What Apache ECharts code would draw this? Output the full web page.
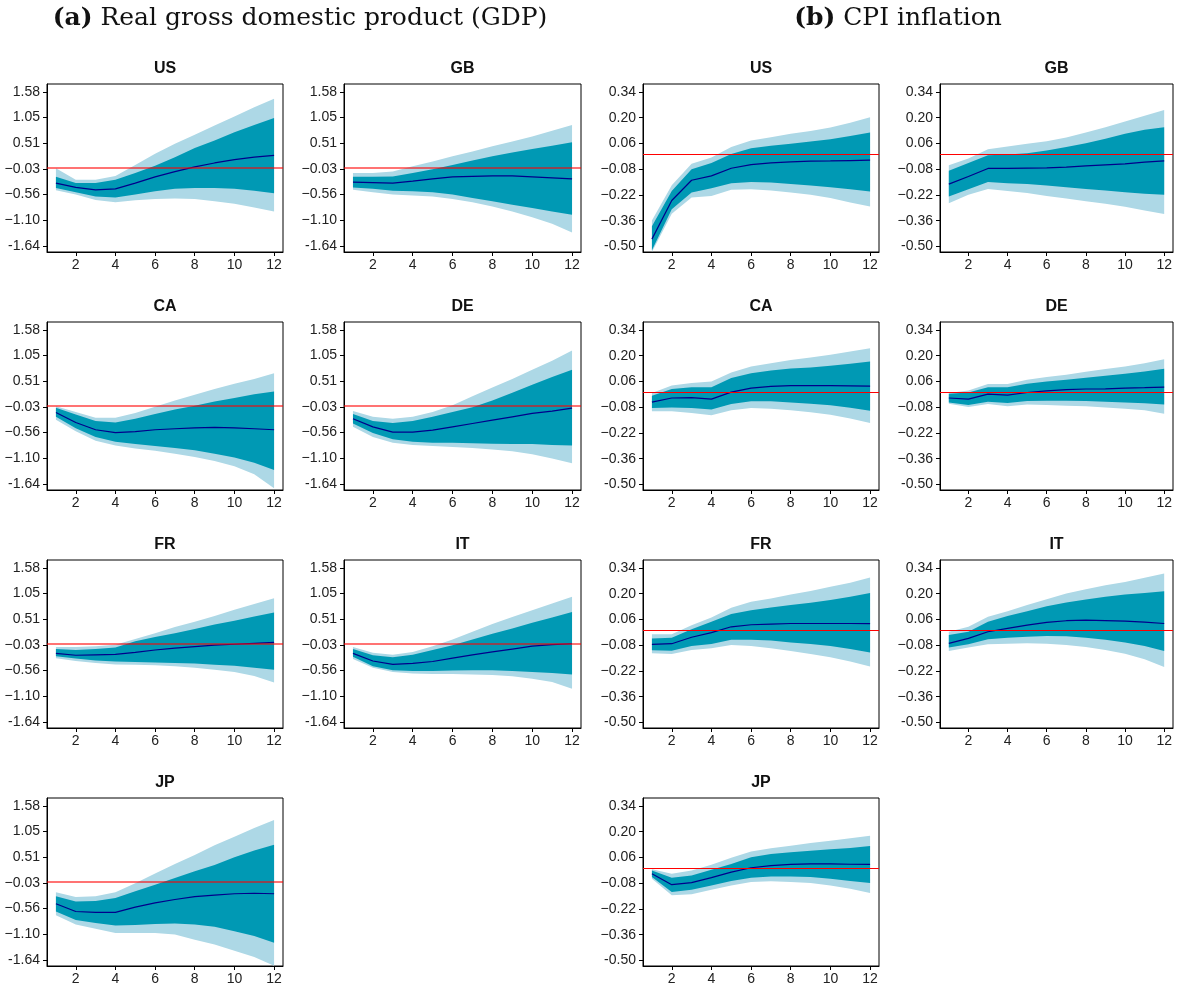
<!DOCTYPE html>
<html><head><meta charset="utf-8">
<script src="https://cdn.jsdelivr.net/npm/echarts@6/dist/echarts.min.js"></script>
<style>html,body{margin:0;padding:0;background:#fff}#c{width:1180px;height:988px}</style>
</head><body><div id="c"></div>
<script>
// ---------------- data ----------------
const horizons = [1,2,3,4,5,6,7,8,9,10,11,12];
const xTickValues = [2,4,6,8,10,12];
const gdpTickValues = [-1.64,-1.10,-0.56,-0.03,0.51,1.05,1.58];
const gdpTickLabels = ['-1.64','\u22121.10','\u22120.56','\u22120.03','0.51','1.05','1.58'];
const cpiTickValues = [-0.50,-0.36,-0.22,-0.08,0.06,0.20,0.34];
const cpiTickLabels = ['-0.50','\u22120.36','\u22120.22','\u22120.08','0.06','0.20','0.34'];

// GDP responses
const gdpUSMid  = [-0.32,-0.41,-0.46,-0.44,-0.32,-0.19,-0.08,0.02,0.10,0.17,0.22,0.26];
const gdpUSHi68 = [-0.19,-0.32,-0.32,-0.25,-0.11,0.04,0.22,0.41,0.57,0.74,0.89,1.04];
const gdpUSLo68 = [-0.42,-0.51,-0.60,-0.62,-0.56,-0.49,-0.44,-0.42,-0.42,-0.44,-0.48,-0.53];
const gdpUSHi90 = [-0.01,-0.25,-0.25,-0.17,0.06,0.29,0.50,0.69,0.88,1.07,1.26,1.44];
const gdpUSLo90 = [-0.47,-0.56,-0.67,-0.72,-0.68,-0.65,-0.64,-0.65,-0.70,-0.75,-0.83,-0.91];

const gdpGBMid  = [-0.30,-0.31,-0.32,-0.28,-0.23,-0.19,-0.18,-0.17,-0.17,-0.19,-0.21,-0.23];
const gdpGBHi68 = [-0.19,-0.19,-0.18,-0.11,-0.03,0.06,0.15,0.24,0.32,0.39,0.46,0.53];
const gdpGBLo68 = [-0.41,-0.44,-0.48,-0.49,-0.51,-0.56,-0.63,-0.70,-0.77,-0.84,-0.91,-0.98];
const gdpGBHi90 = [-0.11,-0.11,-0.08,0.03,0.13,0.24,0.34,0.45,0.55,0.65,0.77,0.89];
const gdpGBLo90 = [-0.46,-0.51,-0.56,-0.58,-0.60,-0.65,-0.72,-0.81,-0.91,-1.03,-1.17,-1.35];

const gdpCAMid  = [-0.14,-0.35,-0.50,-0.56,-0.54,-0.50,-0.48,-0.46,-0.45,-0.46,-0.48,-0.50];
const gdpCAHi68 = [-0.04,-0.18,-0.32,-0.35,-0.27,-0.17,-0.08,0.00,0.09,0.16,0.24,0.30];
const gdpCALo68 = [-0.23,-0.47,-0.65,-0.75,-0.80,-0.84,-0.88,-0.93,-1.00,-1.08,-1.19,-1.34];
const gdpCAHi90 = [-0.01,-0.13,-0.25,-0.25,-0.15,-0.02,0.11,0.23,0.35,0.46,0.56,0.68];
const gdpCALo90 = [-0.29,-0.53,-0.73,-0.83,-0.89,-0.94,-1.00,-1.07,-1.15,-1.26,-1.43,-1.72];

const gdpDEMid  = [-0.27,-0.44,-0.55,-0.55,-0.51,-0.44,-0.37,-0.30,-0.23,-0.16,-0.11,-0.05];
const gdpDEHi68 = [-0.17,-0.32,-0.36,-0.32,-0.23,-0.13,-0.03,0.11,0.27,0.44,0.60,0.75];
const gdpDELo68 = [-0.37,-0.57,-0.70,-0.75,-0.77,-0.77,-0.78,-0.79,-0.80,-0.80,-0.82,-0.83];
const gdpDEHi90 = [-0.11,-0.23,-0.27,-0.23,-0.13,0.01,0.20,0.38,0.56,0.75,0.94,1.15];
const gdpDELo90 = [-0.44,-0.65,-0.77,-0.82,-0.84,-0.86,-0.88,-0.91,-0.95,-1.01,-1.10,-1.20];

const gdpFRMid  = [-0.20,-0.24,-0.23,-0.22,-0.18,-0.13,-0.09,-0.06,-0.03,-0.01,0.01,0.03];
const gdpFRHi68 = [-0.11,-0.13,-0.11,-0.08,0.05,0.14,0.22,0.31,0.40,0.48,0.57,0.65];
const gdpFRLo68 = [-0.26,-0.31,-0.35,-0.37,-0.38,-0.39,-0.40,-0.41,-0.44,-0.46,-0.50,-0.54];
const gdpFRHi90 = [-0.07,-0.07,-0.05,-0.02,0.10,0.22,0.35,0.46,0.58,0.71,0.83,0.95];
const gdpFRLo90 = [-0.30,-0.36,-0.40,-0.43,-0.44,-0.45,-0.47,-0.50,-0.54,-0.59,-0.67,-0.81];

const gdpITMid  = [-0.20,-0.36,-0.43,-0.41,-0.37,-0.30,-0.23,-0.17,-0.11,-0.05,-0.02,0.00];
const gdpITHi68 = [-0.11,-0.24,-0.28,-0.23,-0.13,-0.03,0.09,0.21,0.32,0.44,0.55,0.66];
const gdpITLo68 = [-0.27,-0.47,-0.55,-0.57,-0.57,-0.56,-0.55,-0.55,-0.57,-0.59,-0.61,-0.64];
const gdpITHi90 = [-0.07,-0.19,-0.23,-0.17,-0.05,0.09,0.25,0.41,0.56,0.70,0.84,0.98];
const gdpITLo90 = [-0.32,-0.50,-0.59,-0.62,-0.63,-0.63,-0.64,-0.65,-0.68,-0.73,-0.80,-0.94];

const gdpJPMid  = [-0.46,-0.62,-0.64,-0.64,-0.53,-0.44,-0.37,-0.31,-0.28,-0.25,-0.24,-0.25];
const gdpJPHi68 = [-0.30,-0.41,-0.40,-0.34,-0.20,-0.06,0.08,0.22,0.35,0.51,0.65,0.77];
const gdpJPLo68 = [-0.62,-0.80,-0.86,-0.91,-0.90,-0.88,-0.87,-0.89,-0.94,-1.03,-1.13,-1.27];
const gdpJPHi90 = [-0.22,-0.32,-0.30,-0.22,-0.03,0.17,0.37,0.56,0.76,0.94,1.12,1.29];
const gdpJPLo90 = [-0.70,-0.89,-0.98,-1.07,-1.07,-1.07,-1.10,-1.21,-1.31,-1.44,-1.57,-1.75];

// CPI inflation responses
const cpiUSMid  = [-0.460,-0.250,-0.140,-0.116,-0.075,-0.055,-0.046,-0.040,-0.036,-0.035,-0.033,-0.031];
const cpiUSHi68 = [-0.390,-0.198,-0.080,-0.047,0.002,0.034,0.047,0.058,0.070,0.083,0.101,0.119];
const cpiUSLo68 = [-0.520,-0.297,-0.207,-0.183,-0.156,-0.149,-0.152,-0.160,-0.169,-0.178,-0.189,-0.201];
const cpiUSHi90 = [-0.359,-0.167,-0.051,-0.017,0.040,0.076,0.094,0.112,0.128,0.146,0.173,0.202];
const cpiUSLo90 = [-0.530,-0.322,-0.234,-0.225,-0.192,-0.189,-0.196,-0.207,-0.219,-0.237,-0.261,-0.283];

const cpiGBMid  = [-0.161,-0.120,-0.076,-0.075,-0.074,-0.073,-0.069,-0.062,-0.056,-0.051,-0.042,-0.035];
const cpiGBHi68 = [-0.089,-0.047,-0.004,0.000,0.007,0.021,0.040,0.061,0.085,0.112,0.134,0.148];
const cpiGBLo68 = [-0.228,-0.189,-0.150,-0.156,-0.161,-0.169,-0.178,-0.187,-0.196,-0.205,-0.214,-0.219];
const cpiGBHi90 = [-0.058,-0.022,0.029,0.043,0.058,0.072,0.092,0.119,0.148,0.179,0.210,0.242];
const cpiGBLo90 = [-0.265,-0.219,-0.187,-0.198,-0.210,-0.225,-0.239,-0.254,-0.268,-0.284,-0.304,-0.324];

const cpiCAMid  = [-0.052,-0.030,-0.028,-0.036,0.002,0.024,0.033,0.037,0.037,0.037,0.036,0.035];
const cpiCAHi68 = [-0.018,0.019,0.028,0.029,0.078,0.105,0.120,0.130,0.136,0.145,0.156,0.168];
const cpiCALo68 = [-0.084,-0.081,-0.084,-0.093,-0.063,-0.048,-0.048,-0.054,-0.061,-0.070,-0.083,-0.099];
const cpiCAHi90 = [-0.003,0.038,0.051,0.060,0.109,0.141,0.159,0.177,0.190,0.205,0.223,0.241];
const cpiCALo90 = [-0.102,-0.102,-0.111,-0.124,-0.097,-0.084,-0.088,-0.097,-0.108,-0.121,-0.142,-0.166];

const cpiDEMid  = [-0.030,-0.036,-0.009,-0.014,0.000,0.009,0.015,0.019,0.020,0.024,0.026,0.029];
const cpiDEHi68 = [-0.007,0.000,0.029,0.029,0.047,0.060,0.069,0.080,0.091,0.102,0.114,0.129];
const cpiDELo68 = [-0.054,-0.068,-0.050,-0.057,-0.046,-0.045,-0.045,-0.046,-0.050,-0.054,-0.059,-0.066];
const cpiDEHi90 = [-0.003,0.011,0.046,0.046,0.069,0.084,0.096,0.112,0.127,0.141,0.159,0.181];
const cpiDELo90 = [-0.061,-0.079,-0.063,-0.075,-0.066,-0.068,-0.072,-0.075,-0.081,-0.088,-0.097,-0.115];

const cpiFRMid  = [-0.075,-0.072,-0.037,-0.012,0.020,0.031,0.035,0.038,0.038,0.038,0.038,0.037];
const cpiFRHi68 = [-0.043,-0.039,0.006,0.047,0.089,0.110,0.125,0.138,0.150,0.165,0.183,0.204];
const cpiFRLo68 = [-0.108,-0.110,-0.084,-0.074,-0.050,-0.050,-0.055,-0.065,-0.074,-0.084,-0.100,-0.120];
const cpiFRHi90 = [-0.021,-0.020,0.029,0.071,0.123,0.156,0.174,0.196,0.215,0.237,0.260,0.288];
const cpiFRLo90 = [-0.124,-0.128,-0.106,-0.097,-0.079,-0.084,-0.097,-0.111,-0.128,-0.146,-0.169,-0.196];

const cpiITMid  = [-0.070,-0.043,-0.007,0.011,0.029,0.044,0.053,0.056,0.054,0.051,0.045,0.038];
const cpiITHi68 = [-0.025,-0.007,0.047,0.078,0.105,0.132,0.152,0.168,0.183,0.195,0.204,0.213];
const cpiITLo68 = [-0.093,-0.075,-0.048,-0.039,-0.034,-0.030,-0.032,-0.039,-0.050,-0.065,-0.084,-0.111];
const cpiITHi90 = [-0.007,0.020,0.074,0.105,0.138,0.170,0.201,0.224,0.246,0.264,0.286,0.309];
const cpiITLo90 = [-0.111,-0.093,-0.075,-0.072,-0.070,-0.072,-0.079,-0.090,-0.106,-0.126,-0.157,-0.198];

const cpiJPMid  = [-0.029,-0.088,-0.077,-0.050,-0.020,0.004,0.016,0.022,0.025,0.025,0.023,0.022];
const cpiJPHi68 = [-0.011,-0.050,-0.038,-0.007,0.025,0.061,0.079,0.088,0.097,0.104,0.111,0.122];
const cpiJPLo68 = [-0.047,-0.128,-0.115,-0.092,-0.068,-0.050,-0.043,-0.043,-0.047,-0.056,-0.068,-0.079];
const cpiJPHi90 = [-0.004,-0.029,-0.011,0.020,0.058,0.092,0.110,0.124,0.139,0.151,0.164,0.178];
const cpiJPLo90 = [-0.056,-0.146,-0.140,-0.115,-0.092,-0.074,-0.070,-0.074,-0.079,-0.092,-0.110,-0.133];

// ---------------- panels ----------------
const panels = [
  {name:'US', kind:'gdp', col:0, row:0, mid:gdpUSMid, hi68:gdpUSHi68, lo68:gdpUSLo68, hi90:gdpUSHi90, lo90:gdpUSLo90},
  {name:'GB', kind:'gdp', col:1, row:0, mid:gdpGBMid, hi68:gdpGBHi68, lo68:gdpGBLo68, hi90:gdpGBHi90, lo90:gdpGBLo90},
  {name:'CA', kind:'gdp', col:0, row:1, mid:gdpCAMid, hi68:gdpCAHi68, lo68:gdpCALo68, hi90:gdpCAHi90, lo90:gdpCALo90},
  {name:'DE', kind:'gdp', col:1, row:1, mid:gdpDEMid, hi68:gdpDEHi68, lo68:gdpDELo68, hi90:gdpDEHi90, lo90:gdpDELo90},
  {name:'FR', kind:'gdp', col:0, row:2, mid:gdpFRMid, hi68:gdpFRHi68, lo68:gdpFRLo68, hi90:gdpFRHi90, lo90:gdpFRLo90},
  {name:'IT', kind:'gdp', col:1, row:2, mid:gdpITMid, hi68:gdpITHi68, lo68:gdpITLo68, hi90:gdpITHi90, lo90:gdpITLo90},
  {name:'JP', kind:'gdp', col:0, row:3, mid:gdpJPMid, hi68:gdpJPHi68, lo68:gdpJPLo68, hi90:gdpJPHi90, lo90:gdpJPLo90},
  {name:'US', kind:'cpi', col:2, row:0, mid:cpiUSMid, hi68:cpiUSHi68, lo68:cpiUSLo68, hi90:cpiUSHi90, lo90:cpiUSLo90},
  {name:'GB', kind:'cpi', col:3, row:0, mid:cpiGBMid, hi68:cpiGBHi68, lo68:cpiGBLo68, hi90:cpiGBHi90, lo90:cpiGBLo90},
  {name:'CA', kind:'cpi', col:2, row:1, mid:cpiCAMid, hi68:cpiCAHi68, lo68:cpiCALo68, hi90:cpiCAHi90, lo90:cpiCALo90},
  {name:'DE', kind:'cpi', col:3, row:1, mid:cpiDEMid, hi68:cpiDEHi68, lo68:cpiDELo68, hi90:cpiDEHi90, lo90:cpiDELo90},
  {name:'FR', kind:'cpi', col:2, row:2, mid:cpiFRMid, hi68:cpiFRHi68, lo68:cpiFRLo68, hi90:cpiFRHi90, lo90:cpiFRLo90},
  {name:'IT', kind:'cpi', col:3, row:2, mid:cpiITMid, hi68:cpiITHi68, lo68:cpiITLo68, hi90:cpiITHi90, lo90:cpiITLo90},
  {name:'JP', kind:'cpi', col:2, row:3, mid:cpiJPMid, hi68:cpiJPHi68, lo68:cpiJPLo68, hi90:cpiJPHi90, lo90:cpiJPLo90}
];

// ---------------- layout & style ----------------
const colLeft = [47, 344, 643, 940];
const colWidth = [236, 237, 236, 233];
const rowTop = [84, 322, 560, 798];
const plotH = 168;
const axisCfg = {
  gdp: {min:-1.757, max:1.747, ticks:gdpTickValues, labels:gdpTickLabels, zeroColor:'rgba(255,0,0,0.55)', zeroWidth:2},
  cpi: {min:-0.530, max:0.383, ticks:cpiTickValues, labels:cpiTickLabels, zeroColor:'#ff0000', zeroWidth:1.2}
};
const LIGHT = '#add8e6', DARK = '#0099b4', LINE = '#00008b';
const labelFont = {fontFamily:'Liberation Sans', fontSize:14, color:'#222'};

function bandRenderer(lo, hi, color) {
  return function (params, api) {
    if (params.dataIndex !== 0) return null;
    const pts = [];
    for (let i = 0; i < horizons.length; i++) pts.push(api.coord([horizons[i], hi[i]]));
    for (let i = horizons.length - 1; i >= 0; i--) pts.push(api.coord([horizons[i], lo[i]]));
    return {type:'polygon', shape:{points:pts}, style:{fill:color, stroke:null}};
  };
}

const grids = [], xAxes = [], yAxes = [], series = [], titles = [];
panels.forEach((p, i) => {
  const cfg = axisCfg[p.kind];
  const left = colLeft[p.col], top = rowTop[p.row], w = colWidth[p.col];
  grids.push({left:left, top:top, width:w, height:plotH, show:true, borderColor:'#000', borderWidth:1, backgroundColor:'transparent', containLabel:false});
  xAxes.push({
    type:'value', gridIndex:i, min:0.55, max:12.45,
    axisLine:{show:true, onZero:false, lineStyle:{color:'#000', width:1}},
    splitLine:{show:false},
    axisTick:{show:true, customValues:xTickValues, length:4, lineStyle:{color:'#000'}},
    axisLabel:Object.assign({customValues:xTickValues, margin:6}, labelFont)
  });
  yAxes.push({
    type:'value', gridIndex:i, min:cfg.min, max:cfg.max,
    axisLine:{show:true, onZero:false, lineStyle:{color:'#000', width:1}},
    splitLine:{show:false},
    axisTick:{show:true, customValues:cfg.ticks, length:4, lineStyle:{color:'#000'}},
    axisLabel:Object.assign({
      customValues:cfg.ticks, margin:7,
      formatter:function (v) {
        let best = 0;
        cfg.ticks.forEach((t, k) => { if (Math.abs(t - v) < Math.abs(cfg.ticks[best] - v)) best = k; });
        return cfg.labels[best];
      }
    }, labelFont)
  });
  const bandData90 = horizons.map((h, k) => [h, p.lo90[k], p.hi90[k]]);
  const bandData68 = horizons.map((h, k) => [h, p.lo68[k], p.hi68[k]]);
  series.push({type:'custom', xAxisIndex:i, yAxisIndex:i, clip:true, silent:true, z:1,
    data:bandData90, encode:{x:0, y:[1,2]}, renderItem:bandRenderer(p.lo90, p.hi90, LIGHT)});
  series.push({type:'custom', xAxisIndex:i, yAxisIndex:i, clip:true, silent:true, z:2,
    data:bandData68, encode:{x:0, y:[1,2]}, renderItem:bandRenderer(p.lo68, p.hi68, DARK)});
  series.push({type:'line', xAxisIndex:i, yAxisIndex:i, z:3, silent:true,
    data:horizons.map((h, k) => [h, p.mid[k]]), showSymbol:false, symbol:'none',
    lineStyle:{color:LINE, width:1.2},
    markLine:{silent:true, symbol:'none', label:{show:false},
      lineStyle:{color:cfg.zeroColor, width:cfg.zeroWidth, type:'solid'},
      data:[{yAxis:0}]}
  });
  titles.push({text:p.name, left:left + w / 2, top:top - 23, textAlign:'center', padding:0,
    textStyle:{fontFamily:'Liberation Sans', fontWeight:'bold', fontSize:16, color:'#111'}});
});

const mainTitleStyle = {fontFamily:'DejaVu Serif', fontSize:25, fontWeight:'normal', color:'#111',
  rich:{b:{fontFamily:'DejaVu Serif', fontSize:25, fontWeight:'bold', color:'#111'}}};
titles.push({text:'{b|(a)} Real gross domestic product (GDP)', left:300, top:6, textAlign:'center', padding:0,
  textStyle:mainTitleStyle});
titles.push({text:'{b|(b)} CPI inflation', left:898, top:6, textAlign:'center', padding:0,
  textStyle:mainTitleStyle});

const chart = echarts.init(document.getElementById('c'), null, {renderer:'canvas'});
chart.setOption({
  animation:false,
  backgroundColor:'#fff',
  title:titles,
  grid:grids,
  xAxis:xAxes,
  yAxis:yAxes,
  series:series
});
</script>
</body></html>
